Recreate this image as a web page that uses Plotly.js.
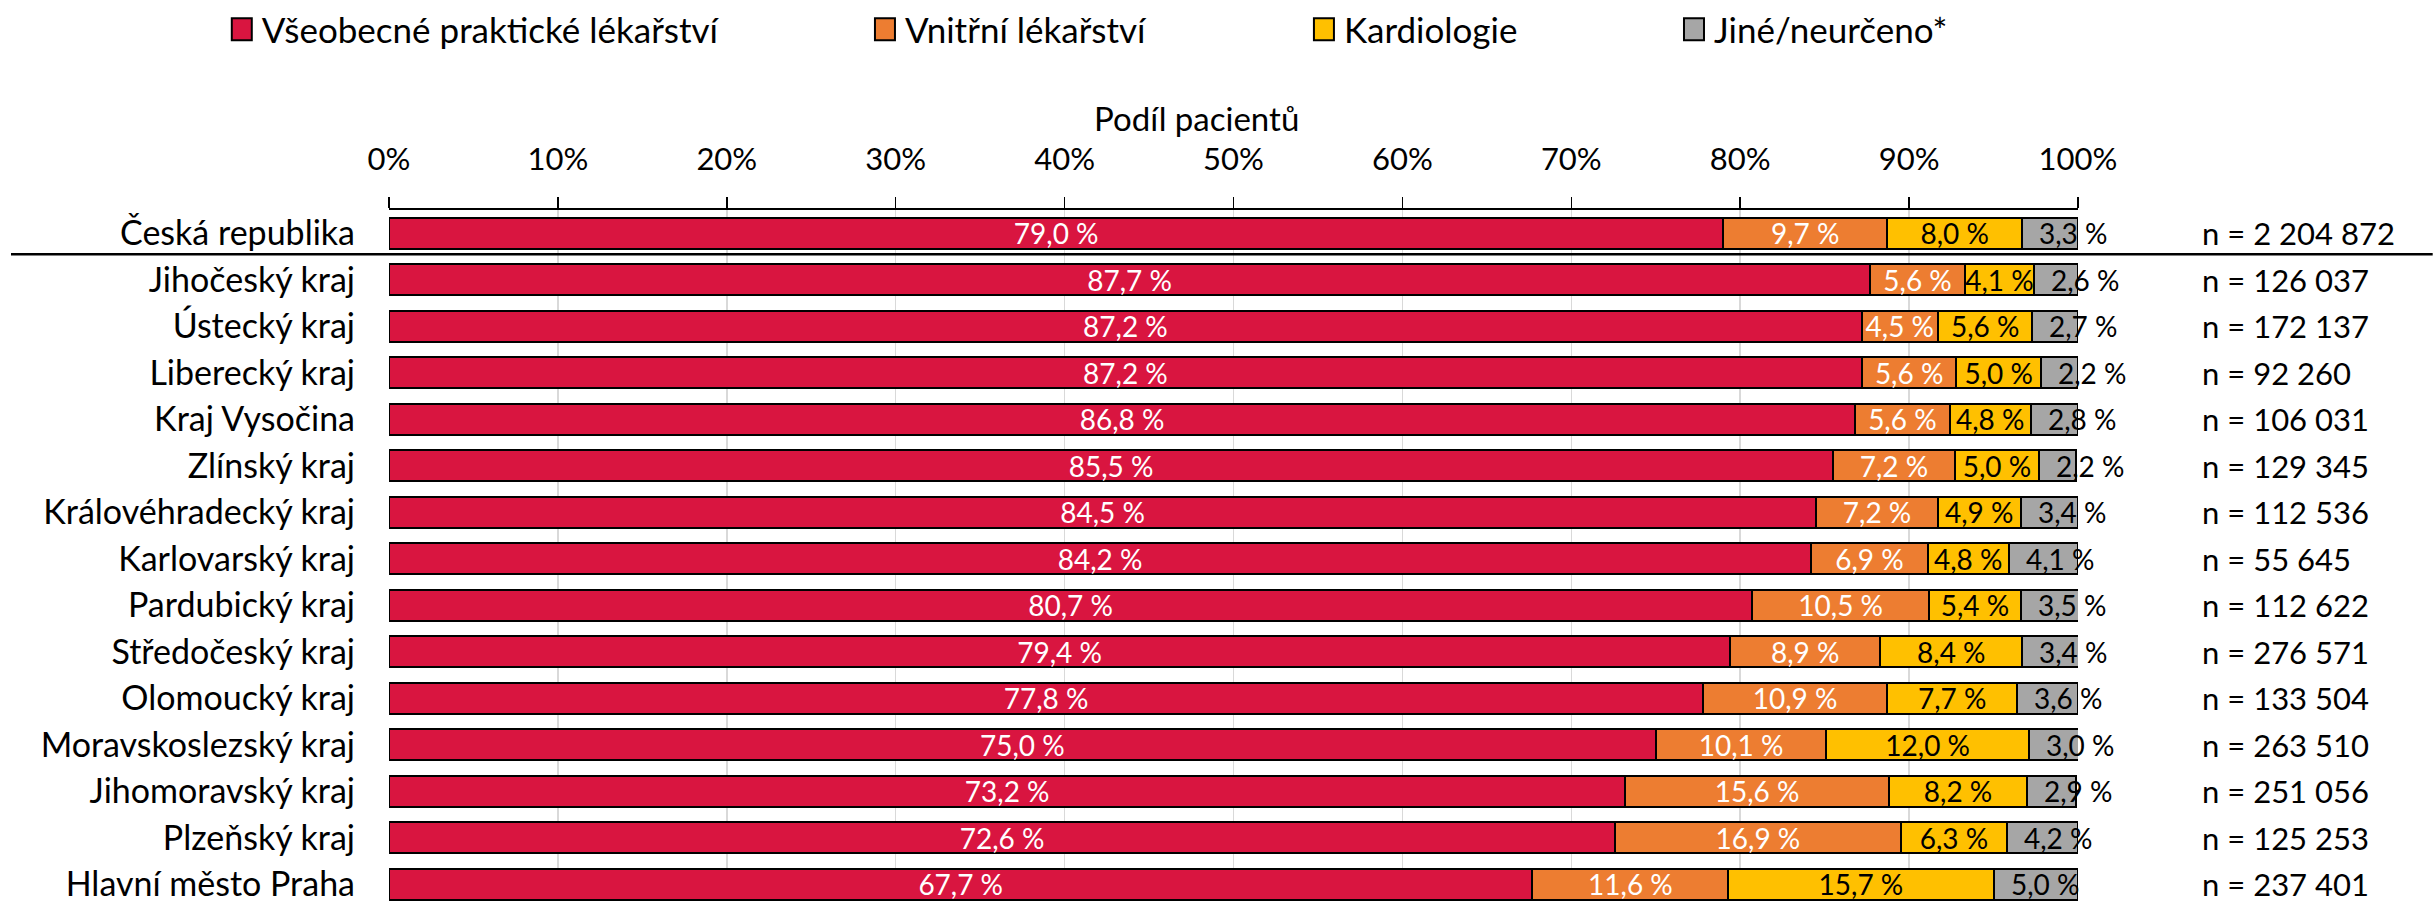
<!DOCTYPE html>
<html><head><meta charset="utf-8">
<script src="https://cdn.plot.ly/plotly-3.0.1.min.js"></script>
<style>
html,body{margin:0;padding:0;background:#fff;}
#chart{width:2433px;height:901px;}
</style></head><body><div id="chart"></div>
<script>
const regions = ["Česká republika","Jihočeský kraj","Ústecký kraj","Liberecký kraj","Kraj Vysočina","Zlínský kraj","Královéhradecký kraj","Karlovarský kraj","Pardubický kraj","Středočeský kraj","Olomoucký kraj","Moravskoslezský kraj","Jihomoravský kraj","Plzeňský kraj","Hlavní město Praha"];
const praktik = [79.0,87.7,87.2,87.2,86.8,85.5,84.5,84.2,80.7,79.4,77.8,75.0,73.2,72.6,67.7];
const vnitrni = [9.7,5.6,4.5,5.6,5.6,7.2,7.2,6.9,10.5,8.9,10.9,10.1,15.6,16.9,11.6];
const kardio = [8.0,4.1,5.6,5.0,4.8,5.0,4.9,4.8,5.4,8.4,7.7,12.0,8.2,6.3,15.7];
const jine = [3.3,2.6,2.7,2.2,2.8,2.2,3.4,4.1,3.5,3.4,3.6,3.0,2.9,4.2,5.0];
const nLabels = ["n = 2 204 872","n = 126 037","n = 172 137","n = 92 260","n = 106 031","n = 129 345","n = 112 536","n = 55 645","n = 112 622","n = 276 571","n = 133 504","n = 263 510","n = 251 056","n = 125 253","n = 237 401"];
const seriesNames = ["Všeobecné praktické lékařství","Vnitřní lékařství","Kardiologie","Jiné/neurčeno*"];
const tickVals = [0,10,20,30,40,50,60,70,80,90,100];
const tickText = ["0%","10%","20%","30%","40%","50%","60%","70%","80%","90%","100%"];
const axisTitle = "Podíl pacientů";

const FONT = "Lato, 'Open Sans', sans-serif";
const colors = ["#D91540","#ED7D31","#FFC000","#A6A6A6"];
const fmt = v => v.toFixed(1).replace('.', ',') + ' %';

function barTrace(vals, idx, textColor, showText, legendId) {
  return {
    type: 'bar', orientation: 'h', name: seriesNames[idx],
    y: regions, x: vals,
    marker: {color: colors[idx], line: {color: '#000', width: 2}},
    text: showText ? vals.map(fmt) : undefined,
    textposition: showText ? 'inside' : 'none',
    insidetextanchor: 'middle',
    textangle: 0,
    constraintext: 'none',
    cliponaxis: false,
    textfont: {family: FONT, size: 28, color: textColor},
    hoverinfo: 'skip',
    legend: legendId
  };
}

const traces = [
  barTrace(praktik, 0, '#fff', true, 'legend'),
  barTrace(vnitrni, 1, '#fff', true, 'legend2'),
  barTrace(kardio, 2, '#000', true, 'legend3'),
  barTrace(jine, 3, '#000', false, 'legend4')
];

const annotations = [];
regions.forEach((r, i) => {
  annotations.push({
    xref: 'x', yref: 'y', x: praktik[i] + vnitrni[i] + kardio[i], y: r,
    text: fmt(jine[i]), showarrow: false, xanchor: 'left', xshift: 15,
    font: {family: FONT, size: 28, color: '#000'}
  });
  annotations.push({
    xref: 'paper', yref: 'y', x: 1.072, y: r,
    text: nLabels[i], showarrow: false, xanchor: 'left',
    font: {family: FONT, size: 31, color: '#000'}
  });
});
annotations.push({
  xref: 'paper', yref: 'paper', x: 0.4778, y: 1.133, xanchor: 'center', yanchor: 'middle',
  text: axisTitle, showarrow: false, font: {family: FONT, size: 33, color: '#000'}
});

function legendAt(x) {
  return {orientation: 'h', x: x, y: 1.262, xanchor: 'left', yanchor: 'middle',
    font: {family: FONT, size: 35, color: '#000'}, bgcolor: 'rgba(0,0,0,0)', borderwidth: 0};
}

const layout = {
  width: 2433, height: 901,
  margin: {l: 389, r: 355, t: 209, b: 0, pad: 0},
  paper_bgcolor: '#fff', plot_bgcolor: '#fff',
  font: {family: FONT, size: 31, color: '#000'},
  barmode: 'stack', bargap: 0.334,
  showlegend: true,
  legend: legendAt(-0.099),
  legend2: legendAt(0.2818),
  legend3: legendAt(0.5417),
  legend4: legendAt(0.7608),
  xaxis: {
    side: 'top', range: [0, 100], tickvals: tickVals, ticktext: tickText,
    ticks: 'outside', ticklen: 11, tickwidth: 1.5, tickcolor: '#000',
    showline: true, linecolor: '#000', linewidth: 2.5,
    showgrid: true, gridcolor: '#d9d9d9', gridwidth: 1.5, zeroline: false,
    tickfont: {family: FONT, size: 31, color: '#000'},
    ticklabelstandoff: 14,
    fixedrange: true
  },
  yaxis: {
    type: 'category', categoryorder: 'array', categoryarray: regions,
    range: [14.36, -0.5], autorange: false,
    ticks: '', showline: false, showgrid: false, zeroline: false,
    tickfont: {family: FONT, size: 34, color: '#000'},
    ticklabelstandoff: 33, fixedrange: true
  },
  annotations: annotations,
  shapes: [{
    type: 'line', xref: 'paper', yref: 'y', x0: -0.2238, x1: 1.21, y0: 0.45, y1: 0.45,
    line: {color: '#000', width: 2.5}
  }]
};

Plotly.newPlot('chart', traces, layout, {displayModeBar: false, staticPlot: true}).then(() => {
  document.querySelectorAll('.legendpoints path').forEach(p => {
    p.setAttribute('d', 'M10,11H-10V-11H10Z');
    p.style.strokeWidth = '2px';
  });
});
</script></body></html>
